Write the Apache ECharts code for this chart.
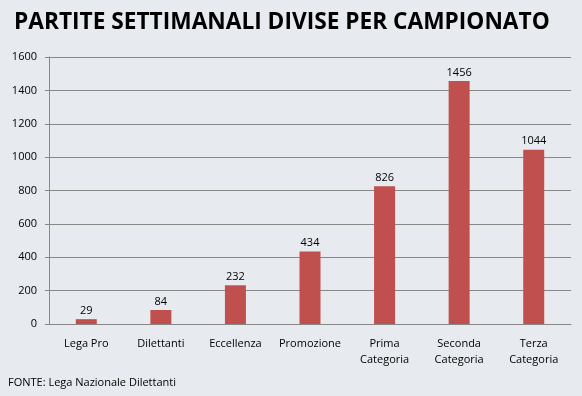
<!DOCTYPE html>
<html>
<head>
<meta charset="utf-8">
<script src="https://cdn.jsdelivr.net/npm/echarts@6/dist/echarts.min.js"></script>
<style>
  html, body { margin: 0; padding: 0; background: #e7eaee; }
  #chart { width: 582px; height: 396px; }
</style>
</head>
<body>
<div id="chart"></div>
<script>
const categories = [
  "Lega Pro",
  "Dilettanti",
  "Eccellenza",
  "Promozione",
  "Prima\nCategoria",
  "Seconda\nCategoria",
  "Terza\nCategoria",
];
const partite = [29, 84, 232, 434, 826, 1456, 1044];
const yMin = 0;
const yMax = 1600;
const yStep = 200;

const chart = echarts.init(document.getElementById("chart"));

const options = {
  backgroundColor: "#e7eaee",
  animation: false,
  title: [
    {
      text: "PARTITE SETTIMANALI DIVISE PER CAMPIONATO",
      left: 9,
      top: 6,
      textStyle: {
        fontFamily: "Open Sans",
        fontWeight: "bold",
        fontSize: 22.7,
        color: "#000",
      },
    },
    {
      text: "FONTE: Lega Nazionale Dilettanti",
      left: 3,
      top: 372,
      textStyle: {
        fontFamily: "Open Sans",
        fontWeight: "normal",
        fontSize: 11,
        color: "#000",
      },
    },
  ],
  grid: {
    left: 49,
    right: 11,
    top: 57,
    bottom: 72,
  },
  xAxis: {
    type: "category",
    data: categories,
    axisLine: { lineStyle: { color: "#878787" } },
    axisTick: { length: 5, lineStyle: { color: "#878787" } },
    axisLabel: {
      interval: 0,
      margin: 12,
      fontFamily: "Open Sans",
      fontSize: 11,
      lineHeight: 16,
      color: "#000",
    },
  },
  yAxis: {
    type: "value",
    min: yMin,
    max: yMax,
    interval: yStep,
    axisLine: { show: true, lineStyle: { color: "#878787" } },
    axisTick: { show: true, length: 4, lineStyle: { color: "#878787" } },
    splitLine: { lineStyle: { color: "#878787" } },
    axisLabel: {
      margin: 12,
      fontFamily: "Open Sans",
      fontSize: 11,
      color: "#000",
      formatter: (v) => String(v),
    },
  },
  series: [
    {
      type: "bar",
      data: partite,
      barWidth: 21,
      itemStyle: { color: "#c0504d" },
      label: {
        show: true,
        position: "top",
        distance: 3,
        fontFamily: "Open Sans",
        fontSize: 11,
        color: "#000",
      },
    },
  ],
};

chart.setOption(options);
</script>
</body>
</html>
